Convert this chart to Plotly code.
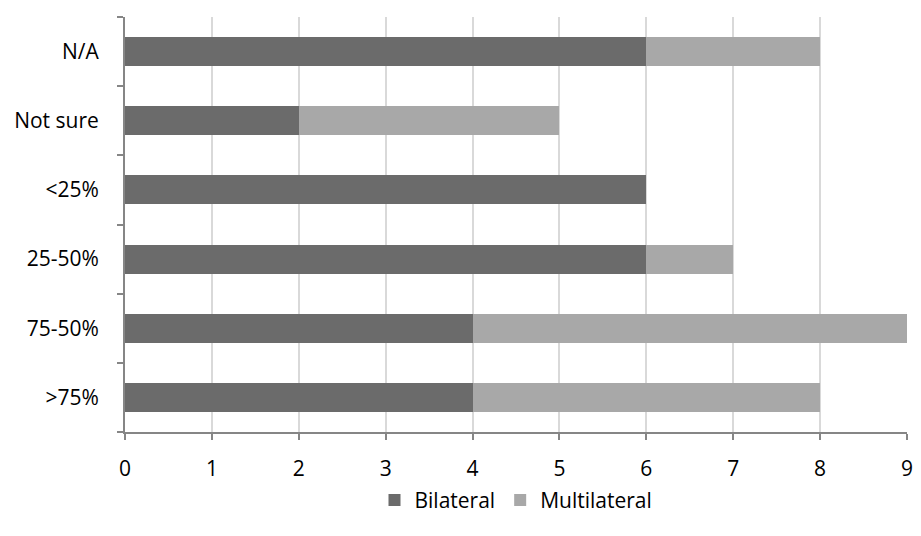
import plotly.graph_objects as go

categories = [">75%", "75-50%", "25-50%", "<25%", "Not sure", "N/A"]
bilateral = [4, 4, 6, 6, 2, 6]
multilateral = [4, 5, 1, 0, 3, 2]
x_ticks = [0, 1, 2, 3, 4, 5, 6, 7, 8, 9]

font_family = "Open Sans, Liberation Sans, sans-serif"

fig = go.Figure()
fig.add_trace(go.Bar(
    y=categories, x=bilateral, name="Bilateral", orientation="h",
    marker=dict(color="#6b6b6b", line=dict(width=0)),
))
fig.add_trace(go.Bar(
    y=categories, x=multilateral, name="Multilateral", orientation="h",
    marker=dict(color="#a8a8a8", line=dict(width=0)),
))

fig.update_layout(
    barmode="stack",
    bargap=0.58,
    width=921, height=536,
    margin=dict(l=125, r=8, t=17, b=104),
    paper_bgcolor="white",
    plot_bgcolor="white",
    font=dict(family=font_family, size=21, color="#000000"),
    legend=dict(
        orientation="h", x=0.5, xanchor="center", y=-0.115, yanchor="top",
        font=dict(size=21), traceorder="normal", itemwidth=30,
    ),
    xaxis=dict(
        range=[0, 9], tickvals=x_ticks, showgrid=True, gridcolor="#d9d9d9",
        gridwidth=2, showline=True, linecolor="#868686", linewidth=2,
        ticks="outside", ticklen=6, tickcolor="#868686", tickwidth=2,
        zeroline=False, ticklabelstandoff=11,
        tickfont=dict(size=21),
    ),
    yaxis=dict(
        categoryorder="array", categoryarray=categories,
        showline=True, linecolor="#868686", linewidth=2,
        ticks="outside", ticklen=6, tickcolor="#868686", tickwidth=2,
        tickson="boundaries", showgrid=False, ticklabelstandoff=20,
        tickfont=dict(size=21),
    ),
)

fig.write_html("out.html")
